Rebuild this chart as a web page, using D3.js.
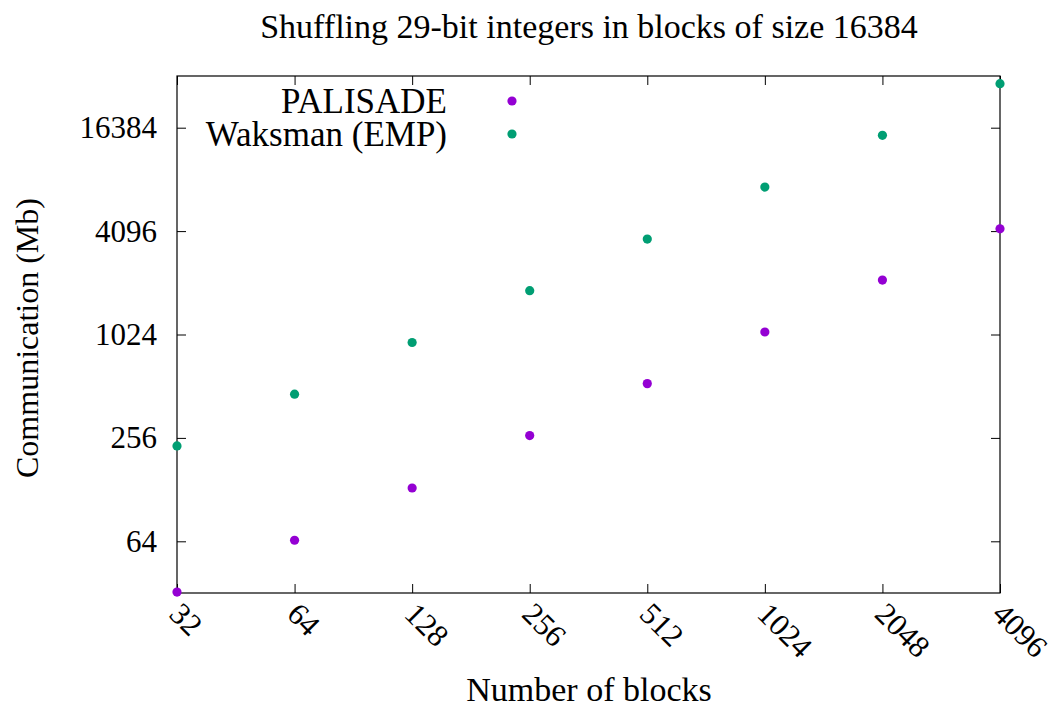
<!DOCTYPE html>
<html>
<head>
<meta charset="utf-8">
<script src="https://cdn.jsdelivr.net/npm/d3@7"></script>
<style>
    body { margin: 0; background: #fff; }
    svg { display: block; }
    svg text { font-family: "Liberation Serif", "Tinos", "Times New Roman", "DejaVu Serif", serif; fill: #000; }
    .tick line { stroke: #000; }
</style>
</head>
<body>
<svg id="chart" width="1054" height="708"></svg>
<script>
const blocks = [32, 64, 128, 256, 512, 1024, 2048, 4096];
const palisade = [32.4, 64.9, 130.8, 264, 530, 1059, 2125, 4223];
const waksman = [230, 460, 920, 1843, 3679, 7389, 14795, 29560];
const yTicks = [64, 256, 1024, 4096, 16384];

const series = [
    { name: 'PALISADE', values: palisade, color: '#9400d3' },
    { name: 'Waksman (EMP)', values: waksman, color: '#009e73' }
];

const margin = { left: 177, right: 1000, top: 76, bottom: 593 };
const svg = d3.select('#chart');

const x = d3.scaleLog().base(2).domain([32, 4096]).range([margin.left, margin.right]);
const y = d3.scaleLog().base(2).domain([32, 32768]).range([margin.bottom, margin.top]);

const fmt = d => String(d);

// Bottom axis, ticks point inward
const xAxis = svg.append('g')
    .attr('transform', `translate(0,${margin.bottom})`)
    .call(d3.axisBottom(x).tickValues(blocks).tickFormat(fmt).tickSize(-9).tickSizeOuter(0));
xAxis.select('.domain').remove();
xAxis.attr('font-family', null);
xAxis.selectAll('text')
    .attr('x', 0).attr('y', 0).attr('dy', '0.35em')
    .attr('transform', 'translate(-2,15) rotate(45)')
    .style('text-anchor', 'start')
    .style('font-size', '31px');

// Top mirror ticks
const xTop = svg.append('g')
    .attr('transform', `translate(0,${margin.top})`)
    .call(d3.axisTop(x).tickValues(blocks).tickFormat('').tickSize(-9).tickSizeOuter(0));
xTop.select('.domain').remove();

// Left axis
const yAxis = svg.append('g')
    .attr('transform', `translate(${margin.left},0)`)
    .call(d3.axisLeft(y).tickValues(yTicks).tickFormat(fmt).tickSize(-9).tickPadding(20).tickSizeOuter(0));
yAxis.select('.domain').remove();
yAxis.attr('font-family', null);
yAxis.selectAll('text').style('font-size', '31px');

// Right mirror ticks
const yRight = svg.append('g')
    .attr('transform', `translate(${margin.right},0)`)
    .call(d3.axisRight(y).tickValues(yTicks).tickFormat('').tickSize(-9).tickSizeOuter(0));
yRight.select('.domain').remove();

// Frame
svg.append('rect')
    .attr('x', margin.left).attr('y', margin.top)
    .attr('width', margin.right - margin.left)
    .attr('height', margin.bottom - margin.top)
    .attr('fill', 'none').attr('stroke', '#000').attr('stroke-width', 1.2);

// Points
series.forEach(s => {
    svg.append('g').selectAll('circle')
        .data(blocks.map((b, i) => ({ b, v: s.values[i] })))
        .enter().append('circle')
        .attr('cx', d => x(d.b))
        .attr('cy', d => y(d.v))
        .attr('r', 4.6)
        .attr('fill', s.color);
});

// Legend
const legend = svg.append('g');
series.forEach((s, i) => {
    const ly = 101 + i * 33;
    legend.append('text')
        .attr('x', 447).attr('y', ly).attr('dy', '0.35em')
        .attr('text-anchor', 'end')
        .style('font-size', '35px')
        .text(s.name);
    legend.append('circle')
        .attr('cx', 512).attr('cy', ly)
        .attr('r', 4.6).attr('fill', s.color);
});

// Title and axis labels
svg.append('text')
    .attr('x', 589).attr('y', 38)
    .attr('text-anchor', 'middle')
    .style('font-size', '34px')
    .text('Shuffling 29-bit integers in blocks of size 16384');

svg.append('text')
    .attr('x', 589).attr('y', 701)
    .attr('text-anchor', 'middle')
    .style('font-size', '34px')
    .text('Number of blocks');

svg.append('text')
    .attr('transform', 'translate(38,338) rotate(-90)')
    .attr('text-anchor', 'middle')
    .style('font-size', '32px')
    .text('Communication (Mb)');
</script>
</body>
</html>
